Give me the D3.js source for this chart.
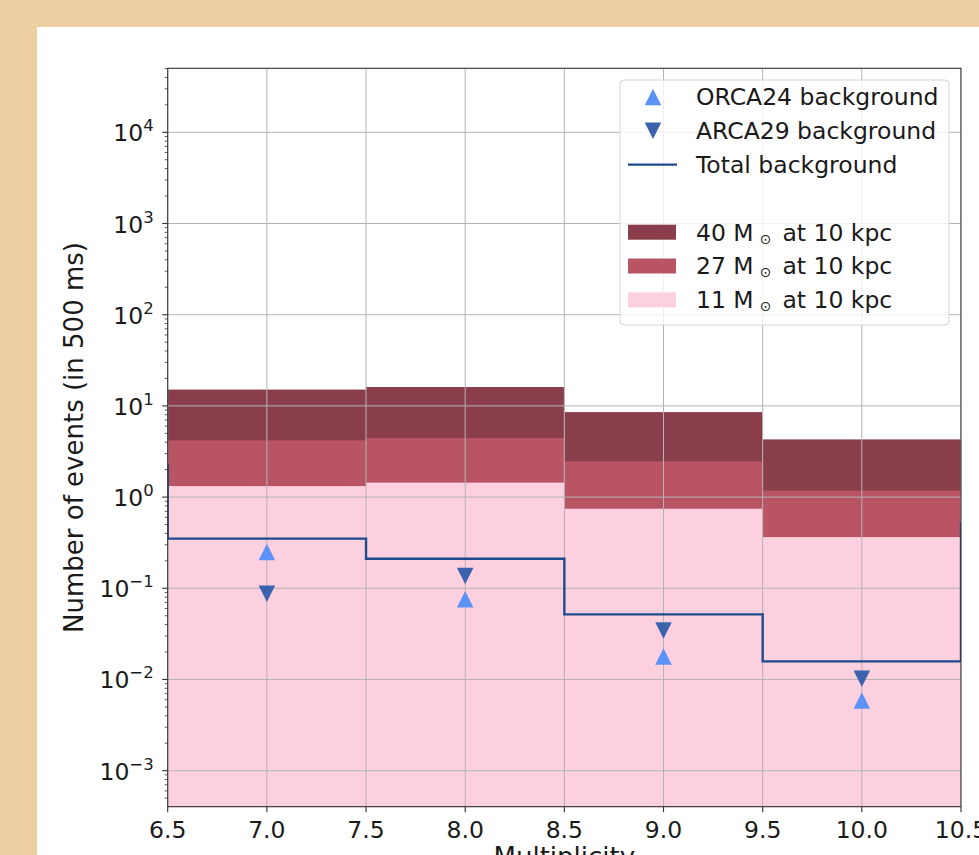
<!DOCTYPE html>
<html>
<head>
<meta charset="utf-8">
<script src="https://cdn.jsdelivr.net/npm/d3@7"></script>
<style>
  body { margin: 0; background: #eecfa2; }
  svg { display: block; font-family: 'DejaVu Sans', sans-serif; }
</style>
</head>
<body>
<svg id="chart" width="979" height="855"></svg>
<script>
'use strict';

// multiplicity bins (centres), one bin wide
const multiplicity = [7, 8, 9, 10];
// supernova signal expectations at 10 kpc
const sn40 = [15.1, 16.1, 8.55, 4.29];
const sn27 = [4.19, 4.43, 2.46, 1.18];
const sn11 = [1.32, 1.44, 0.746, 0.364];
// backgrounds
const orca24 = [0.25, 0.076, 0.0179, 0.0059];
const arca29 = [0.087, 0.136, 0.0345, 0.0102];
const totalX = [6, 7, 8, 9, 10, 11];
const totalBg = [2.23, 0.35, 0.211, 0.0518, 0.0158, 0.515];
// ticks
const xTicks = [6.5, 7.0, 7.5, 8.0, 8.5, 9.0, 9.5, 10.0, 10.5];
const yExponents = [-3, -2, -1, 0, 1, 2, 3, 4];

const colors = {
  sn40: '#8a3e4c',
  sn27: '#b85464',
  sn11: '#fdd0e0',
  orca: '#5a92f6',
  arca: '#3b62ad',
  total: '#1d4b8c',
  grid: '#b4b4b4',
  axis: '#333'
};

const svg = d3.select('#chart');

// white figure panel
svg.append('rect')
    .attr('x', 37).attr('y', 27)
    .attr('width', 979 - 37).attr('height', 855 - 27)
    .attr('fill', '#fff');

const pLeft = 167.7, pRight = 961, pTop = 68.3, pBottom = 806.7;

const x = d3.scaleLinear().domain([6.5, 10.5]).range([pLeft, pRight]);
const y = d3.scaleLog().domain([Math.pow(10, -3.395), Math.pow(10, 4.702)]).range([pBottom, pTop]);

svg.append('clipPath').attr('id', 'plot-clip')
  .append('rect')
    .attr('x', pLeft).attr('y', pTop)
    .attr('width', pRight - pLeft).attr('height', pBottom - pTop);

const plot = svg.append('g').attr('clip-path', 'url(#plot-clip)');

// overlaid histograms, largest behind
[[sn40, colors.sn40], [sn27, colors.sn27], [sn11, colors.sn11]].forEach(([vals, col]) => {
  plot.selectAll(null)
      .data(vals)
      .enter().append('rect')
      .attr('x', (d, i) => x(multiplicity[i] - 0.5))
      .attr('width', (d, i) => x(multiplicity[i] + 0.5) - x(multiplicity[i] - 0.5))
      .attr('y', (d) => y(d))
      .attr('height', (d) => pBottom - y(d))
      .attr('fill', col);
});

// grid (drawn above the bars)
plot.selectAll(null)
    .data(xTicks)
    .enter().append('line')
    .attr('x1', (d) => x(d)).attr('x2', (d) => x(d))
    .attr('y1', pTop).attr('y2', pBottom)
    .attr('stroke', colors.grid).attr('stroke-width', 1);
plot.selectAll(null)
    .data(yExponents)
    .enter().append('line')
    .attr('x1', pLeft).attr('x2', pRight)
    .attr('y1', (d) => y(Math.pow(10, d))).attr('y2', (d) => y(Math.pow(10, d)))
    .attr('stroke', colors.grid).attr('stroke-width', 1);

// total background step
const stepLine = d3.line()
    .x((d, i) => x(totalX[i]))
    .y((d) => y(d))
    .curve(d3.curveStep);
plot.append('path')
    .datum(totalBg)
    .attr('d', stepLine)
    .attr('fill', 'none')
    .attr('stroke', colors.total)
    .attr('stroke-width', 2.4);

// triangle markers
const tri = (up, s) => {
  const h = s / 2;
  return up ? `M0,${-h}L${-h},${h}L${h},${h}Z` : `M0,${h}L${-h},${-h}L${h},${-h}Z`;
};
plot.selectAll(null)
    .data(arca29)
    .enter().append('path')
    .attr('d', tri(false, 16.5))
    .attr('transform', (d, i) => 'translate(' + x(multiplicity[i]) + ',' + y(d) + ')')
    .attr('fill', colors.arca);
plot.selectAll(null)
    .data(orca24)
    .enter().append('path')
    .attr('d', tri(true, 16.5))
    .attr('transform', (d, i) => 'translate(' + x(multiplicity[i]) + ',' + y(d) + ')')
    .attr('fill', colors.orca);

// spines
svg.append('rect')
    .attr('x', pLeft).attr('y', pTop)
    .attr('width', pRight - pLeft).attr('height', pBottom - pTop)
    .attr('fill', 'none')
    .attr('stroke', colors.axis).attr('stroke-width', 1.1);

// x ticks
const xAxis = svg.append('g');
xAxis.selectAll('line')
    .data(xTicks)
    .enter().append('line')
    .attr('x1', (d) => x(d)).attr('x2', (d) => x(d))
    .attr('y1', pBottom).attr('y2', pBottom + 5.5)
    .attr('stroke', colors.axis).attr('stroke-width', 1.1);
xAxis.selectAll('text')
    .data(xTicks)
    .enter().append('text')
    .attr('x', (d) => x(d))
    .attr('y', pBottom + 31)
    .attr('text-anchor', 'middle')
    .attr('font-size', '23.5px')
    .attr('fill', '#1a1a1a')
    .text((d) => d.toFixed(1));

// y ticks, major and minor
const yAxis = svg.append('g');
const minor = [];
for (let e = -4; e <= 4; e++) {
  for (let m = 2; m <= 9; m++) {
    const v = m * Math.pow(10, e);
    if (v >= y.domain()[0] && v <= y.domain()[1]) minor.push(v);
  }
}
yAxis.selectAll(null)
    .data(minor)
    .enter().append('line')
    .attr('x1', pLeft - 3).attr('x2', pLeft)
    .attr('y1', (d) => y(d)).attr('y2', (d) => y(d))
    .attr('stroke', colors.axis).attr('stroke-width', 0.8);
yAxis.selectAll(null)
    .data(yExponents)
    .enter().append('line')
    .attr('x1', pLeft - 5.5).attr('x2', pLeft)
    .attr('y1', (d) => y(Math.pow(10, d))).attr('y2', (d) => y(Math.pow(10, d)))
    .attr('stroke', colors.axis).attr('stroke-width', 1.1);
const yLabels = yAxis.selectAll(null)
    .data(yExponents)
    .enter().append('text')
    .attr('x', pLeft - 14)
    .attr('y', (d) => y(Math.pow(10, d)) + 9)
    .attr('text-anchor', 'end')
    .attr('font-size', '23.5px')
    .attr('fill', '#1a1a1a');
yLabels.append('tspan').text('10');
yLabels.append('tspan')
    .attr('dy', -10)
    .attr('font-size', '16.5px')
    .text((d) => (d < 0 ? '\u2212' : '') + Math.abs(d));

// axis titles
svg.append('text')
    .attr('transform', 'translate(83,' + ((pTop + pBottom) / 2) + ') rotate(-90)')
    .attr('text-anchor', 'middle')
    .attr('font-size', '26px')
    .attr('fill', '#1a1a1a')
    .text('Number of events (in 500 ms)');
svg.append('text')
    .attr('x', (pLeft + pRight) / 2)
    .attr('y', pBottom + 59)
    .attr('text-anchor', 'middle')
    .attr('font-size', '26px')
    .attr('fill', '#1a1a1a')
    .text('Multiplicity');

// legend
const legend = svg.append('g');
legend.append('rect')
    .attr('x', 620).attr('y', 80)
    .attr('width', 329).attr('height', 245)
    .attr('rx', 4)
    .attr('fill', '#fff').attr('fill-opacity', 0.8)
    .attr('stroke', '#d6d6d6').attr('stroke-width', 1);

const rowY = (i) => 97 + i * 33.8;
const entries = [
  {type: 'up', label: 'ORCA24 background'},
  {type: 'down', label: 'ARCA29 background'},
  {type: 'line', label: 'Total background'},
  {type: 'blank'},
  {type: 'patch', color: colors.sn40, mass: '40'},
  {type: 'patch', color: colors.sn27, mass: '27'},
  {type: 'patch', color: colors.sn11, mass: '11'}
];
entries.forEach((e, i) => {
  const cy = rowY(i);
  if (e.type === 'blank') return;
  if (e.type === 'up' || e.type === 'down') {
    legend.append('path')
        .attr('d', tri(e.type === 'up', 16.5))
        .attr('transform', 'translate(653,' + cy + ')')
        .attr('fill', e.type === 'up' ? colors.orca : colors.arca);
  } else if (e.type === 'line') {
    legend.append('line')
        .attr('x1', 628).attr('x2', 677)
        .attr('y1', cy).attr('y2', cy)
        .attr('stroke', colors.total).attr('stroke-width', 2.4);
  } else {
    legend.append('rect')
        .attr('x', 628).attr('y', cy - 7.5)
        .attr('width', 48).attr('height', 15)
        .attr('fill', e.color);
  }
  const t = legend.append('text')
      .attr('x', 696)
      .attr('y', cy + 8.4)
      .attr('font-size', '23.5px')
      .attr('fill', '#1a1a1a');
  if (e.type === 'patch') {
    t.append('tspan').text(e.mass + ' M');
    t.append('tspan').attr('dx', 6).attr('dy', 3).attr('font-size', '14px').text('\u2299');
    t.append('tspan').attr('dx', 11).attr('dy', -3).text('at 10 kpc');
  } else {
    t.text(e.label);
  }
});
</script>
</body>
</html>
